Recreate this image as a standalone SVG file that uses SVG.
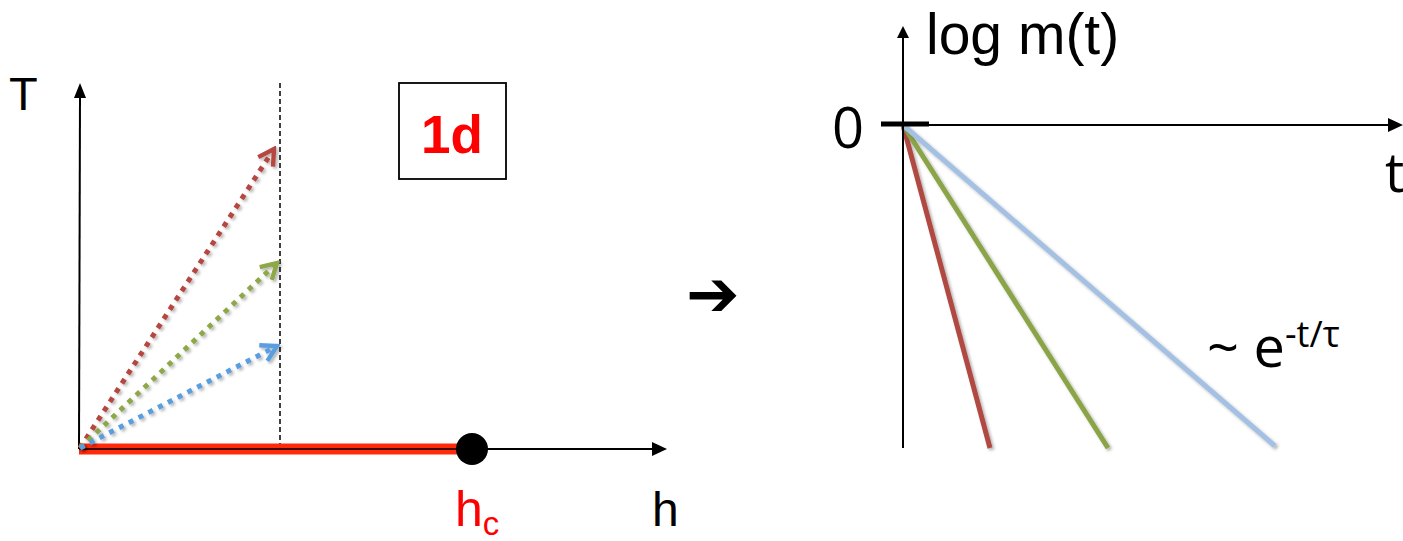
<svg xmlns="http://www.w3.org/2000/svg" width="1403" height="541" viewBox="0 0 1403 541">
<style>
.ax{stroke:#000;stroke-width:2;fill:none}
.lbl{font-family:"Liberation Sans",Arial,sans-serif;fill:#000}
.rlbl{font-family:"Open Sans","Liberation Sans",sans-serif;fill:#000}
.dot{fill:none;stroke-width:5;stroke-dasharray:5 6}
.dec{fill:none;stroke-width:5;stroke-linecap:butt}
</style>
<defs>
<filter id="sh" x="-20%" y="-20%" width="140%" height="140%">
<feDropShadow dx="2" dy="2" stdDeviation="1.5" flood-color="#000" flood-opacity="0.3"/>
</filter>
<marker id="mr" viewBox="0 0 20 20" refX="17" refY="10" markerWidth="22" markerHeight="22" markerUnits="userSpaceOnUse" orient="auto">
<path d="M3,2 L17,10 L3,18" fill="none" stroke="#b5473f" stroke-width="4"/>
</marker>
<marker id="mg" viewBox="0 0 20 20" refX="17" refY="10" markerWidth="22" markerHeight="22" markerUnits="userSpaceOnUse" orient="auto">
<path d="M3,2 L17,10 L3,18" fill="none" stroke="#8ea84a" stroke-width="4"/>
</marker>
<marker id="mb" viewBox="0 0 20 20" refX="17" refY="10" markerWidth="22" markerHeight="22" markerUnits="userSpaceOnUse" orient="auto">
<path d="M3,2 L17,10 L3,18" fill="none" stroke="#5a9ee0" stroke-width="4"/>
</marker>
</defs>
<rect width="1403" height="541" fill="#fff"/>

<g id="left-axes">
<line class="ax" x1="79" y1="449" x2="80" y2="96"/>
<polygon points="80,83 74,98 86,98" fill="#000"/>
<line x1="79" y1="449" x2="654" y2="449" stroke="#000" stroke-width="2"/>
<polygon points="667,449 652,442 652,456" fill="#000"/>
<line x1="280" y1="83" x2="280" y2="449" stroke="#000" stroke-width="1.5" stroke-dasharray="5 3"/>
<text class="lbl" x="9" y="110" font-size="47">T</text>
<text class="lbl" x="652" y="526" font-size="48">h</text>
</g>

<g id="box-1d">
<rect x="399" y="83" width="107" height="96" fill="#fff" stroke="#000" stroke-width="1.8"/>
<text x="452" y="153" font-family="Liberation Sans,Arial,sans-serif" font-weight="bold" font-size="53" fill="#ff0000" text-anchor="middle">1d</text>
</g>

<g id="critical-line">
<line x1="79" y1="449" x2="462" y2="449" stroke="#ff2a0a" stroke-width="11"/>
<line x1="79" y1="449" x2="462" y2="449" stroke="#000" stroke-width="1.5"/>
<circle cx="472" cy="449" r="16" fill="#000"/>
<text class="lbl" x="455" y="526" font-size="50" style="fill:#ff0000">h<tspan font-size="33" dy="9">c</tspan></text>
</g>

<g id="connectors">
<line class="dot" x1="80" y1="448" x2="274" y2="149" stroke="#b5473f" marker-end="url(#mr)" filter="url(#sh)"/>
<line class="dot" x1="80" y1="448" x2="277" y2="263" stroke="#8ea84a" marker-end="url(#mg)" filter="url(#sh)"/>
<line class="dot" x1="80" y1="448" x2="277" y2="346" stroke="#5a9ee0" marker-end="url(#mb)" filter="url(#sh)"/>
<line class="dec" x1="903" y1="125" x2="990" y2="448" stroke="#b04a42" filter="url(#sh)"/>
<line class="dec" x1="903" y1="125" x2="1108" y2="448" stroke="#8aa447" filter="url(#sh)"/>
<line class="dec" x1="903" y1="125" x2="1275" y2="446" stroke="#a4c0e2" filter="url(#sh)"/>
</g>

<g id="implies-arrow">
<text x="686" y="316" font-family="DejaVu Sans,sans-serif" font-size="64" fill="#000">➔</text>
</g>

<g id="right-axes">
<line x1="903" y1="448" x2="903" y2="36" stroke="#000" stroke-width="2"/>
<polygon points="903,26 897,38 909,38" fill="#000"/>
<line x1="903" y1="125" x2="1390" y2="125" stroke="#000" stroke-width="2"/>
<polygon points="1403,125 1388,118 1388,132" fill="#000"/>
<line x1="881" y1="124" x2="929" y2="124" stroke="#000" stroke-width="5"/>
<text class="lbl" x="926" y="54" font-size="57">log m(t)</text>
<text class="rlbl" x="832" y="148" font-size="56">0</text>
<text class="rlbl" x="1385" y="192" font-size="54">t</text>
<text class="rlbl" x="1207" y="367" font-size="56">~ e<tspan font-size="36" dy="-20">-t/τ</tspan></text>
</g>
</svg>
